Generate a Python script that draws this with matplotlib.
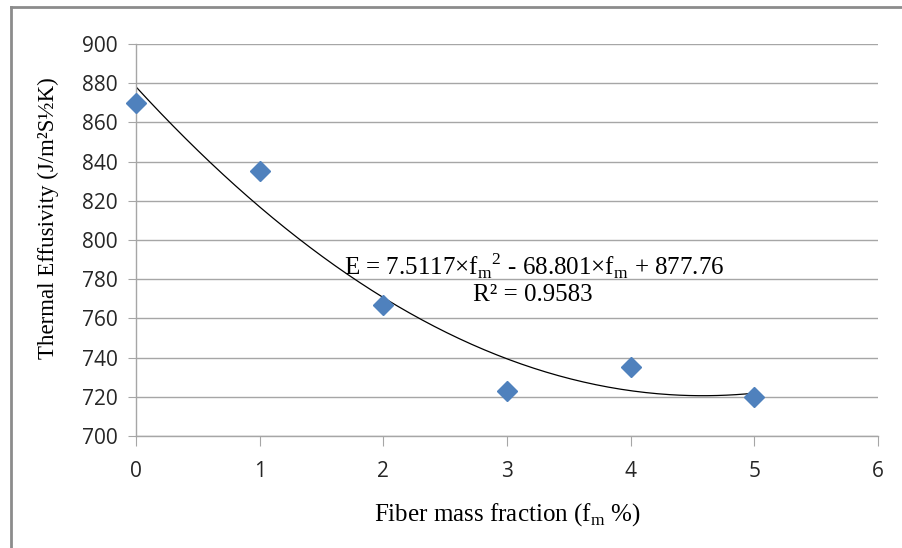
import matplotlib
matplotlib.use("Agg")
import matplotlib.pyplot as plt
from matplotlib.lines import Line2D
import numpy as np

# data
fiber_frac = [0, 1, 2, 3, 4, 5]
effusivity = [870, 835, 767, 723, 735, 720]
eq_text = r"E = 7.5117×f$_{\mathregular{m}}$$^{\mathregular{2}}$ - 68.801×f$_{\mathregular{m}}$ + 877.76"
r2_text = "R² = 0.9583"
y_ticks = list(range(700, 901, 20))
x_ticks = list(range(0, 7))

serif = "Liberation Serif"
plt.rcParams["mathtext.fontset"] = "custom"
plt.rcParams["mathtext.rm"] = serif

fig = plt.figure(figsize=(9.03, 5.48), dpi=100)
ax = fig.add_axes([136 / 903, 1 - 436 / 548, (878 - 136) / 903, (436 - 44) / 548])

grid_col = "#a6a6a6"
blue = "#4f81bd"

# polynomial trendline (order 2) fitted to the points
coef = np.polyfit(fiber_frac, effusivity, 2)
xx = np.linspace(fiber_frac[0], fiber_frac[-1], 200)
ax.plot(xx, np.polyval(coef, xx), color="black", lw=0.9, zorder=2)

ax.plot(fiber_frac, effusivity, "D", color=blue, ms=10.5, mec=blue, zorder=3, clip_on=False)

ax.set_xlim(0, 6)
ax.set_ylim(700, 900)
ax.set_xticks(x_ticks)
ax.set_yticks(y_ticks)
ax.yaxis.grid(True, color=grid_col, lw=1)
ax.set_axisbelow(True)
for s in ["top", "right"]:
    ax.spines[s].set_visible(False)
for s in ["left", "bottom"]:
    ax.spines[s].set_color(grid_col)
    ax.spines[s].set_linewidth(1)
ax.tick_params(axis="y", direction="out", length=6, color=grid_col, pad=7)
ax.tick_params(axis="x", direction="out", length=7, color=grid_col, pad=11)
for lab in ax.get_xticklabels() + ax.get_yticklabels():
    lab.set_fontfamily("Open Sans")
    lab.set_fontsize(15)
    lab.set_color("#262626")

ax.set_xlabel(r"Fiber mass fraction (f$_{\mathregular{m}}$ %)", family=serif, fontsize=18, labelpad=14)
ax.set_ylabel("Thermal Effusivity (J/m²S½K)", family=serif, fontsize=16.5)
ax.yaxis.set_label_coords(-(136 - 59) / 742, 0.556)

ax.text(3.22, 786.5, eq_text, family=serif, fontsize=18, ha="center", va="center")
ax.text(3.21, 772, r2_text, family=serif, fontsize=18, ha="center", va="center")

# chart frame (only top/left edges fall inside the image)
fig.add_artist(Line2D([11 / 903, 11 / 903], [0, 1 - 7 / 548], color="#8c8c8c", lw=2, transform=fig.transFigure))
fig.add_artist(Line2D([11 / 903, 1], [1 - 7 / 548, 1 - 7 / 548], color="#8c8c8c", lw=2, transform=fig.transFigure))

fig.savefig("out.png", dpi=100)
